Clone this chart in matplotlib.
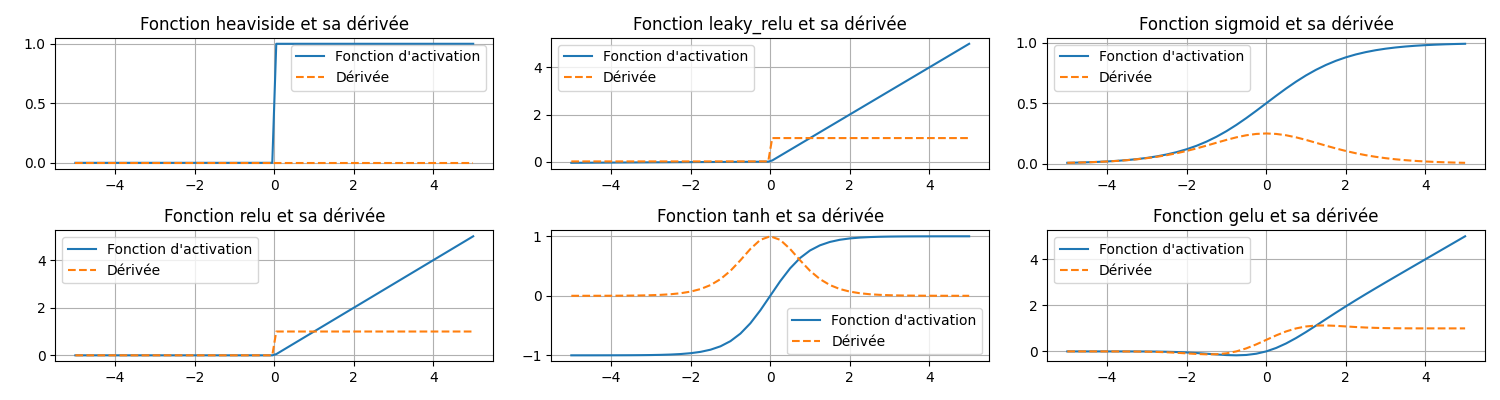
import matplotlib
matplotlib.use("Agg")
import matplotlib.pyplot as plt
import numpy as np

x_smooth = [-5 + 0.25 * i for i in range(41)]
x_step = [-5, -0.05, 0.05, 5]

heaviside = [0, 0, 1, 1]
heaviside_d = [0, 0, 0, 0]
leaky_relu = [-0.05, -0.0005, 0.05, 5]
leaky_relu_d = [0.01, 0.01, 1, 1]
relu = [0, 0, 0.05, 5]
relu_d = [0, 0, 1, 1]

sig_pos = [0.5, 0.5622, 0.6225, 0.6792, 0.7311, 0.7773, 0.8176, 0.8520, 0.8808, 0.9047, 0.9241,
           0.9399, 0.9526, 0.9627, 0.9707, 0.9770, 0.9820, 0.9859, 0.9890, 0.9914, 0.9933]
sig_d_pos = [0.25, 0.2461, 0.2350, 0.2179, 0.1966, 0.1731, 0.1491, 0.1261, 0.1050, 0.0862, 0.0701,
             0.0565, 0.0452, 0.0359, 0.0285, 0.0225, 0.0177, 0.0139, 0.0109, 0.0085, 0.0066]
tanh_pos = [0, 0.2449, 0.4621, 0.6351, 0.7616, 0.8483, 0.9051, 0.9414, 0.9640, 0.9780, 0.9866,
            0.9919, 0.9951, 0.9970, 0.9982, 0.9989, 0.9993, 0.9996, 0.9998, 0.9999, 0.9999]
tanh_d_pos = [1, 0.9400, 0.7864, 0.5966, 0.4200, 0.2804, 0.1807, 0.1138, 0.0707, 0.0435, 0.0266,
              0.0162, 0.0099, 0.0060, 0.0036, 0.0022, 0.0013, 0.0008, 0.0005, 0.0003, 0.0002]
gelu_vals = [0, 0, 0, 0, -0.0001, -0.0003, -0.0008, -0.0019, -0.0040, -0.0082, -0.0155, -0.0275,
             -0.0455, -0.0702, -0.1002, -0.1320, -0.1587, -0.1700, -0.1543, -0.1003, 0,
             0.1497, 0.3457, 0.5800, 0.8413, 1.1180, 1.3998, 1.6798, 1.9545, 2.2226, 2.4845,
             2.7418, 2.9960, 3.2481, 3.4992, 3.7497, 3.9999, 4.25, 4.5, 4.75, 5.0]
gelu_d = [0, 0, -0.0001, -0.0002, -0.0005, -0.0014, -0.0029, -0.0059, -0.0119, -0.0220, -0.0376,
          -0.0591, -0.0852, -0.1109, -0.1275, -0.1227, -0.0833, 0.0008, 0.1324, 0.3046, 0.5,
          0.6954, 0.8676, 0.9992, 1.0833, 1.1227, 1.1275, 1.1109, 1.0852, 1.0591, 1.0376,
          1.0220, 1.0119, 1.0059, 1.0029, 1.0014, 1.0005, 1.0002, 1.0001, 1.0, 1.0]

sigmoid = [1 - v for v in sig_pos[:0:-1]] + sig_pos
sigmoid_d = sig_d_pos[:0:-1] + sig_d_pos
tanh = [-v for v in tanh_pos[:0:-1]] + tanh_pos
tanh_d = tanh_d_pos[:0:-1] + tanh_d_pos

panels = [
    ("heaviside", x_step, heaviside, heaviside_d, "upper right"),
    ("leaky_relu", x_step, leaky_relu, leaky_relu_d, "upper left"),
    ("sigmoid", x_smooth, sigmoid, sigmoid_d, "upper left"),
    ("relu", x_step, relu, relu_d, "upper left"),
    ("tanh", x_smooth, tanh, tanh_d, "lower right"),
    ("gelu", x_smooth, gelu_vals, gelu_d, "upper left"),
]

fig, axes = plt.subplots(2, 3, figsize=(15, 4), dpi=100)
for ax, (name, xs, f, d, loc) in zip(axes.flat, panels):
    ax.plot(xs, f, label="Fonction d'activation")
    ax.plot(xs, d, "--", label="Dérivée")
    ax.set_title(f"Fonction {name} et sa dérivée")
    ax.grid(True)
    ax.legend(loc=loc)
fig.tight_layout()
fig.savefig("out.png")
